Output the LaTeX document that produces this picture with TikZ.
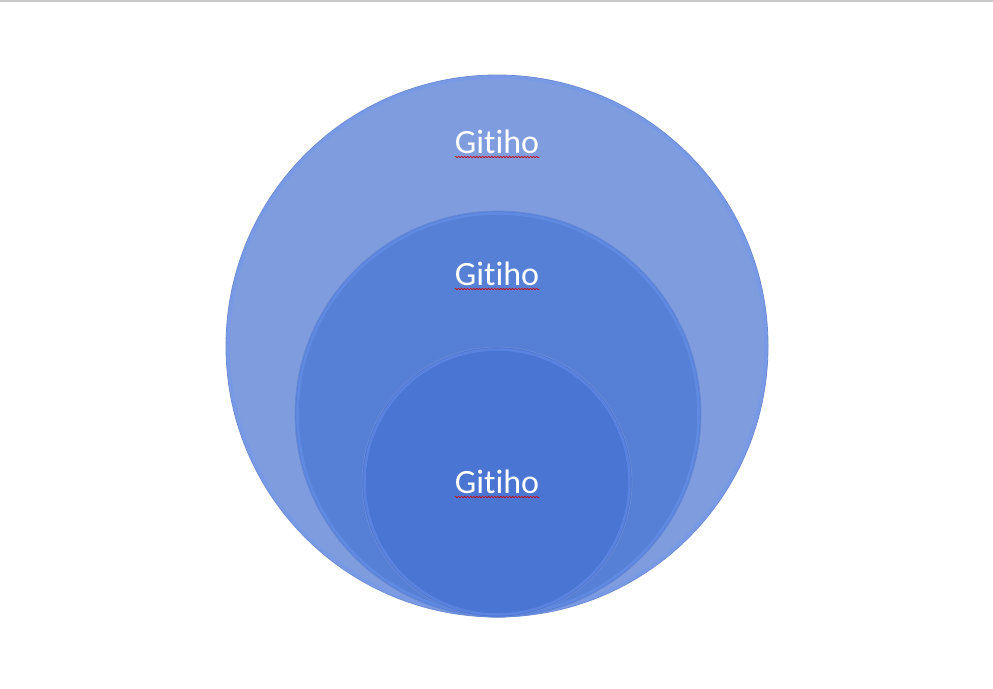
\documentclass[tikz,border=0pt]{standalone}
\usepackage{fontspec}
\setmainfont{Carlito}[Ligatures={NoCommon,NoRare,NoContextual}]
\usetikzlibrary{decorations.pathmorphing}
\definecolor{outerc}{RGB}{127,157,222}
\definecolor{midc}{RGB}{86,128,214}
\definecolor{innc}{RGB}{74,117,210}
\definecolor{rimd}{RGB}{105,138,215}
\definecolor{riml}{RGB}{110,150,240}
\definecolor{topline}{RGB}{200,200,200}
\tikzset{
  disc/.style={circle, inner sep=0pt, draw=rimd, line width=0.8pt},
  lbl/.style={inner sep=0pt, text=white, font=\fontsize{34}{40}\selectfont},
  squig/.style={draw=red!80!black, line width=0.6pt, decorate,
    decoration={snake, amplitude=0.7pt, segment length=3pt}},
  rim/.style={draw=riml, line width=2.5pt, opacity=0.45}
}
\begin{document}
\begin{tikzpicture}[x=1pt,y=-1pt]
\useasboundingbox (0,0) rectangle (993,688);
\fill[white] (0,0) rectangle (993,688);
\coordinate (la) at (0,1);
\coordinate (lb) at (993,1);
\draw[topline, line width=1.5pt] (la) -- (lb);
% circles
\node[disc, fill=outerc, minimum size=542pt] (outer) at (497,346) {};
\draw[rim] (outer.center) circle[radius=268.5pt];
\node[disc, fill=midc, minimum size=406pt] (mid) at (498,414) {};
\draw[rim] (mid.center) circle[radius=200.5pt];
\node[disc, fill=innc, minimum size=270pt] (inn) at (497,482) {};
\draw[rim] (inn.center) circle[radius=132.5pt];
% labels
\node[lbl, anchor=base] (t1) at (497,153) {Gitiho};
\draw[squig] ([yshift=-4pt]t1.base west) -- ([yshift=-4pt]t1.base east);
\node[lbl, anchor=base] (t2) at (497,285) {Gitiho};
\draw[squig] ([yshift=-4pt]t2.base west) -- ([yshift=-4pt]t2.base east);
\node[lbl, anchor=base] (t3) at (497,493) {Gitiho};
\draw[squig] ([yshift=-4pt]t3.base west) -- ([yshift=-4pt]t3.base east);
\end{tikzpicture}
\end{document}
